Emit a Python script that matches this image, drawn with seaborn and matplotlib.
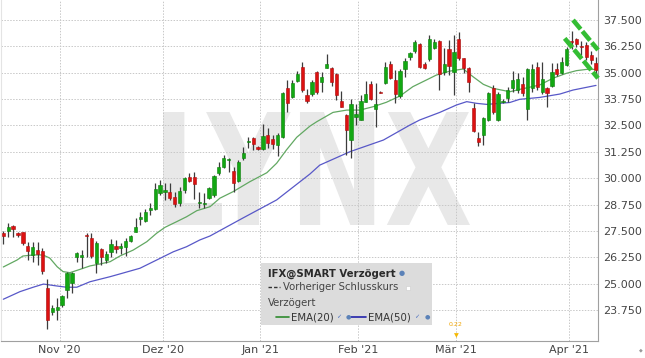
import numpy as np
import matplotlib
matplotlib.use("Agg")
import matplotlib.pyplot as plt
import seaborn as sns
from matplotlib.textpath import TextPath
from matplotlib.patches import PathPatch, Rectangle
from matplotlib.lines import Line2D
from matplotlib.font_manager import FontProperties
import matplotlib.transforms as mtransforms

# ---------------- data ----------------
opens = [27.40, 27.48, 27.75, 27.39, 27.43, 26.78, 26.36, 26.59, 26.56, 24.78,
         23.67, 23.75, 23.99, 24.70, 25.04, 26.28, 26.25, 27.30, 27.15, 25.96,
         26.63, 26.12, 26.51, 26.78, 26.68, 26.76, 27.04, 27.46, 28.05, 27.98,
         28.49, 28.52, 29.31, 29.36, 29.36, 29.10, 28.81, 29.44, 30.07, 30.04,
         28.81, 28.78, 29.08, 29.20, 30.23, 30.55, 30.86, 30.35, 29.88, 30.94,
         31.73, 31.89, 31.49, 31.37, 32.05, 31.86, 31.57, 31.97, 34.26, 33.86,
         34.62, 35.29, 33.94, 33.98, 35.05, 34.58, 35.24, 35.21, 34.93, 33.66,
         32.99, 31.81, 32.92, 32.76, 33.60, 34.45, 33.28, 34.10, 34.50, 35.40,
         34.66, 33.91, 35.16, 35.76, 36.03, 36.35, 35.40, 35.65, 36.19, 36.52,
         35.02, 36.12, 35.05, 36.60, 35.68, 35.24, 33.34, 31.92, 32.05, 32.76,
         34.29, 32.76, 33.60, 33.80, 34.26, 34.18, 34.47, 33.27, 34.26, 35.26,
         34.10, 34.26, 34.37, 35.16, 34.97, 35.37, 36.50, 36.58, 36.28, 36.31,
         35.84, 35.45]
highs = [27.51, 27.86, 27.80, 27.45, 27.47, 26.99, 26.96, 26.99, 26.67, 25.22,
         24.00, 24.30, 24.45, 25.57, 25.57, 26.50, 26.60, 27.39, 27.40, 27.00,
         26.70, 26.55, 27.10, 27.07, 26.92, 27.16, 27.32, 28.10, 28.41, 28.52,
         28.81, 29.76, 29.91, 29.77, 29.76, 29.36, 29.60, 30.04, 30.26, 30.31,
         29.36, 29.30, 29.60, 30.14, 30.78, 31.10, 30.94, 30.54, 30.86, 31.49,
         31.94, 31.97, 31.53, 32.57, 32.37, 32.05, 32.13, 34.10, 34.66, 34.66,
         35.10, 35.52, 34.21, 34.68, 35.10, 35.05, 35.87, 35.27, 34.97, 34.13,
         33.03, 33.75, 33.50, 33.96, 34.61, 34.60, 34.50, 34.14, 35.52, 35.55,
         35.13, 35.20, 35.68, 36.00, 36.53, 36.40, 35.52, 36.79, 36.60, 36.55,
         36.16, 36.55, 36.79, 36.95, 35.71, 35.29, 33.55, 32.18, 32.92, 34.10,
         34.40, 34.10, 33.75, 34.34, 35.08, 35.00, 34.80, 35.21, 35.40, 35.52,
         35.50, 34.34, 35.45, 35.45, 35.76, 36.24, 37.00, 36.65, 36.50, 36.47,
         36.03, 35.76]
lows = [26.88, 27.23, 27.23, 27.20, 26.82, 26.12, 26.04, 25.88, 25.48, 22.85,
        23.51, 23.28, 23.90, 24.30, 24.54, 26.03, 25.74, 26.28, 26.23, 25.52,
        25.90, 25.96, 26.28, 26.43, 26.40, 26.30, 26.97, 27.46, 27.78, 27.90,
        28.25, 28.49, 29.20, 28.97, 28.96, 28.62, 28.66, 29.30, 29.83, 29.00,
        28.57, 28.60, 29.00, 29.10, 30.15, 30.47, 30.30, 29.36, 29.83, 30.86,
        31.42, 31.35, 31.35, 31.34, 31.42, 31.37, 31.05, 31.90, 33.15, 33.80,
        34.57, 34.10, 33.55, 33.90, 34.00, 34.10, 35.21, 34.37, 33.70, 33.39,
        31.10, 30.94, 32.52, 32.76, 33.60, 33.70, 32.44, 34.02, 34.45, 34.69,
        33.55, 33.80, 34.81, 35.60, 35.95, 35.21, 35.17, 35.56, 36.15, 34.18,
        34.89, 34.89, 33.94, 35.60, 34.97, 34.10, 32.18, 31.54, 31.57, 32.70,
        33.05, 32.70, 33.55, 33.63, 34.10, 34.05, 33.90, 32.76, 34.10, 34.18,
        34.00, 33.39, 34.34, 34.86, 34.94, 35.31, 36.15, 36.20, 35.85, 35.60,
        35.40, 34.89]
closes = [27.24, 27.68, 27.58, 27.31, 26.91, 26.56, 26.72, 26.40, 25.61, 23.28,
          23.83, 23.91, 24.41, 25.49, 25.52, 26.44, 26.35, 27.26, 26.31, 26.91,
          26.25, 26.42, 26.88, 26.63, 26.78, 27.04, 27.26, 27.67, 28.15, 28.41,
          28.59, 29.47, 29.68, 29.42, 29.05, 28.78, 29.41, 29.99, 29.88, 29.72,
          28.88, 28.84, 29.55, 30.10, 30.52, 30.94, 30.90, 29.79, 30.78, 31.21,
          31.78, 31.62, 31.37, 32.00, 31.68, 31.61, 32.05, 34.05, 33.55, 34.53,
          34.94, 34.18, 33.67, 34.57, 34.10, 34.81, 35.40, 34.57, 33.94, 33.39,
          32.28, 33.50, 33.03, 33.66, 33.99, 33.75, 33.52, 34.05, 35.29, 34.76,
          33.98, 35.08, 35.56, 35.92, 36.47, 35.29, 35.21, 36.60, 36.47, 34.93,
          35.40, 35.33, 35.97, 35.68, 35.21, 34.57, 32.24, 31.70, 32.87, 34.02,
          33.12, 33.98, 33.66, 34.18, 34.66, 34.69, 34.05, 35.16, 35.16, 34.34,
          34.69, 34.05, 35.05, 34.94, 35.52, 36.11, 36.45, 36.35, 36.22, 35.76,
          35.60, 35.13]

ema20_idx = [0, 2.8, 4.0, 6.1, 8.1, 9.5, 11.0, 12.2, 13.6, 15.7, 17.7, 19.7, 21.8,
             23.8, 26.5, 29.3, 31.3, 33.0, 35.4, 37.4, 39.5, 42.2, 44.2, 46.9, 50.3,
             53.8, 55.8, 57.8, 59.9, 62.6, 64.0, 67.3, 70.1, 72.8, 75.5, 78.2, 81.0,
             83.6, 86.4, 88.4, 91.2, 93.9, 95.9, 98.0, 100.0, 103.4, 105.4, 109.5,
             112.2, 114.9, 117.0, 119.1, 121.0]
ema20_val = [25.79, 26.12, 26.31, 26.36, 26.36, 26.21, 25.80, 25.57, 25.52, 25.68,
             25.84, 25.93, 26.04, 26.31, 26.59, 26.99, 27.39, 27.67, 27.94, 28.17,
             28.46, 28.65, 29.05, 29.36, 29.83, 30.26, 30.71, 31.34, 31.94, 32.47,
             32.68, 33.12, 33.23, 33.23, 33.39, 33.60, 33.90, 34.34, 34.66, 34.89,
             35.08, 35.18, 34.81, 34.45, 34.26, 34.10, 34.21, 34.42, 34.74, 34.97,
             35.10, 35.16, 35.16]
ema50_idx = [0, 3.4, 6.1, 8.2, 10.9, 12.9, 15.0, 17.7, 21.8, 23.8, 27.9, 32.0, 34.7,
             37.4, 40.1, 42.2, 48.9, 55.8, 62.6, 64.6, 70.8, 77.6, 83.0, 85.0, 89.1,
             92.5, 94.6, 96.6, 98.7, 103.4, 105.4, 109.5, 113.6, 116.3, 121.0]
ema50_val = [24.26, 24.62, 24.83, 24.98, 24.89, 24.83, 24.83, 25.09, 25.33, 25.46,
             25.73, 26.20, 26.51, 26.75, 27.07, 27.26, 28.11, 28.97, 30.20, 30.62,
             31.26, 31.81, 32.52, 32.76, 33.12, 33.47, 33.63, 33.55, 33.50, 33.59,
             33.74, 33.83, 33.99, 34.18, 34.40]

month_start_idx = [12, 33, 53, 73, 93, 116]
month_labels = ["Nov '20", "Dez '20", "Jan '21", "Feb '21", "Mär '21", "Apr '21"]
y_ticks = [23.75, 25.0, 26.25, 27.5, 28.75, 30.0, 31.25, 32.5, 33.75, 35.0, 36.25, 37.5]

trend_upper_idx = [116.3, 121.4]
trend_upper_val = [37.50, 36.08]
trend_lower_idx = [114.6, 121.4]
trend_lower_val = [36.63, 34.74]

# ---------------- figure ----------------
sns.set_theme(style="white")
plt.rcParams['font.family'] = ['DejaVu Sans']

W, H = 645, 358
fig = plt.figure(figsize=(W / 100, H / 100), dpi=100)
fig.patch.set_facecolor("white")

def fx(px):
    return px / W

def fy(py):
    return 1 - py / H

ax_left, ax_right, ax_top, ax_bottom = 1, 598, 0, 341
ax = fig.add_axes([fx(ax_left), fy(ax_bottom), (ax_right - ax_left) / W, (ax_bottom - ax_top) / H])
ax.set_facecolor("white")
ax.set_xlim(-0.47, 121.4)
ax.set_ylim(22.28, 38.45)

# watermark "LYNX"
tp = TextPath((0, 0), "LYNX", size=100, prop=FontProperties(family="DejaVu Sans", weight="bold"))
bb = tp.get_extents()
box_x0, box_x1 = 163, 470
box_ytop, box_ybot = 112, 225
sx = (box_x1 - box_x0) / bb.width
sy = (box_ybot - box_ytop) / bb.height
tr = mtransforms.Affine2D().translate(-bb.x0, -bb.y0).scale(sx, sy).translate(box_x0, H - box_ybot)
wm = PathPatch(tr.transform_path(tp), facecolor="#e8e8e8", edgecolor="none",
               transform=mtransforms.IdentityTransform(), zorder=0.5, clip_on=False)
ax.add_patch(wm)

# grid
ax.set_yticks(y_ticks)
ax.set_yticklabels([f"{v:.3f}" for v in y_ticks])
ax.set_xticks([m - 0.5 for m in month_start_idx])
ax.set_xticklabels(month_labels)
ax.grid(True, color="#c8c8c8", linestyle=(0, (1.5, 1.5)), linewidth=0.7, zorder=1)
ax.set_axisbelow(True)

ax.yaxis.tick_right()
ax.tick_params(axis="y", length=0, pad=3.6, labelsize=8, labelcolor="#444444")
ax.tick_params(axis="x", length=0, pad=3.0, labelsize=8, labelcolor="#444444")

ax.spines["top"].set_visible(False)
ax.spines["left"].set_color("#e4e4e4")
ax.spines["right"].set_color("#a0a0a0")
ax.spines["bottom"].set_color("#a0a0a0")
for s in ["left", "right", "bottom"]:
    ax.spines[s].set_linewidth(0.8)

# EMA lines
sns.lineplot(x=ema50_idx, y=ema50_val, ax=ax, color="#5858c8", linewidth=0.9, zorder=2, sort=False)
sns.lineplot(x=ema20_idx, y=ema20_val, ax=ax, color="#62a862", linewidth=0.9, zorder=2, sort=False)

# candles
idx = np.arange(len(closes))
o = np.array(opens)
c = np.array(closes)
up = c >= o
ax.vlines(idx, lows, highs, color="#3c3c3c", linewidth=0.9, zorder=3)
bottoms = np.minimum(o, c)
heights = np.maximum(np.abs(c - o), 0.05)
ax.bar(idx, heights, bottom=bottoms, width=0.66,
       color=np.where(up, "#12a812", "#dd1111"),
       edgecolor=np.where(up, "#0b7d0b", "#a80d0d"), linewidth=0.4, zorder=4)

# trend channel
for xi, yi in [(trend_upper_idx, trend_upper_val), (trend_lower_idx, trend_lower_val)]:
    ax.plot(xi, yi, color="#33bd33", linewidth=3.3, dashes=(2.6, 0.6),
            solid_capstyle="butt", dash_capstyle="butt", zorder=6, clip_on=False)

# ---------------- legend box ----------------
fig.add_artist(Rectangle((fx(261), fy(325)), 171 / W, 62 / H, transform=fig.transFigure,
                         facecolor="#dcdcdc", edgecolor="none", zorder=10))
tc = "#2a2a2a"
fs = 7.3
fig.text(fx(268), fy(273.5), "IFX@SMART Verzögert", fontsize=fs, fontweight="bold",
         color=tc, va="center", ha="left", zorder=11)
fig.text(fx(402), fy(273.5), "●", fontsize=5, color="#5b82b8", va="center", ha="center", zorder=11)
fig.add_artist(Line2D([fx(268), fx(280)], [fy(287), fy(287)], color="#333333", linewidth=1.0,
                      linestyle=(0, (2.5, 1.5)), transform=fig.transFigure, zorder=11))
fig.text(fx(283), fy(287), "Vorheriger Schlusskurs", fontsize=fs, color="#444444",
         va="center", ha="left", zorder=11)
fig.add_artist(Rectangle((fx(406), fy(289.5)), 4 / W, 4 / H, transform=fig.transFigure,
                         facecolor="white", edgecolor="#cccccc", linewidth=0.4, zorder=11))
fig.text(fx(268), fy(302.5), "Verzögert", fontsize=fs, color="#444444", va="center", ha="left", zorder=11)
fig.add_artist(Line2D([fx(276), fx(289)], [fy(317), fy(317)], color="#2e8b2e", linewidth=1.2,
                      transform=fig.transFigure, zorder=11))
fig.text(fx(291), fy(317), "EMA(20)", fontsize=fs, color="#333333", va="center", ha="left", zorder=11)
fig.text(fx(339), fy(317), "✓", fontsize=4.5, color="#4a6fc0", va="center", ha="center", zorder=11)
fig.text(fx(348), fy(317), "●", fontsize=4.5, color="#5b82b8", va="center", ha="center", zorder=11)
fig.add_artist(Line2D([fx(351), fx(366)], [fy(317), fy(317)], color="#2222aa", linewidth=1.2,
                      transform=fig.transFigure, zorder=11))
fig.text(fx(368), fy(317), "EMA(50)", fontsize=fs, color="#333333", va="center", ha="left", zorder=11)
fig.text(fx(417), fy(317), "✓", fontsize=4.5, color="#4a6fc0", va="center", ha="center", zorder=11)
fig.text(fx(427), fy(317), "●", fontsize=4.5, color="#5b82b8", va="center", ha="center", zorder=11)

# dividend marker
fig.text(fx(456), fy(324), "0.22", fontsize=4.5, color="#f0a400", va="center", ha="center", zorder=11)
fig.text(fx(456), fy(336), "▼", fontsize=4.5, color="#f5b800", va="center", ha="center", zorder=11)

# small marker at bottom right
fig.text(fx(641), fy(350), "◆", fontsize=3.5, color="#999999", va="center", ha="center")

fig.savefig("out.png", dpi=100, facecolor="white")
